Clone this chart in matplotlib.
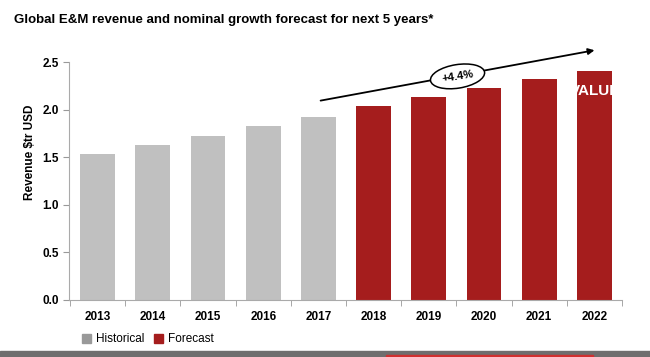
import matplotlib.pyplot as plt
from matplotlib.patches import Rectangle, Patch

# data
years = ['2013', '2014', '2015', '2016', '2017', '2018', '2019', '2020', '2021', '2022']
revenue = [1.53, 1.63, 1.72, 1.83, 1.92, 2.04, 2.13, 2.23, 2.32, 2.41]
n_hist = 5
growth_label = '+4.4%'

grey = '#c0c0c0'
red = '#a51d1d'
plt.rcParams['font.family'] = ['Liberation Sans', 'DejaVu Sans']

fig = plt.figure(figsize=(6.5, 3.57), dpi=100)
ax = fig.add_axes([0.106, 0.16, 0.851, 0.666])

x = list(range(len(years)))
colors = [grey] * n_hist + [red] * (len(years) - n_hist)
bars = ax.bar(x, revenue, width=0.63, color=colors)

ax.set_xlim(-0.52, 9.41)
ax.set_ylim(0, 2.5)
ax.set_yticks([0, 0.5, 1.0, 1.5, 2.0, 2.5])
ax.set_yticklabels(['0.0', '0.5', '1.0', '1.5', '2.0', '2.5'], fontweight='bold', fontsize=8.5)
ax.set_xticks(x)
ax.set_xticklabels(years, fontweight='bold', fontsize=8.5)
ax.tick_params(axis='x', length=0, pad=8)
ax.set_xticks([i + 0.5 for i in range(-1, len(years))], minor=True)
ax.tick_params(axis='x', which='minor', length=4, color='#999999')
ax.tick_params(axis='y', length=4, color='#999999', pad=3)
for s in ['top', 'right']:
    ax.spines[s].set_visible(False)
ax.spines['left'].set_color('#aaaaaa')
ax.spines['bottom'].set_color('#aaaaaa')
ax.set_ylabel('Revenue $tr USD', fontweight='bold', fontsize=8.5)
ax.yaxis.set_label_coords(-0.06, 0.62)

# growth arrow with the CAGR label
ax.annotate('', xy=(9.05, 2.63), xytext=(3.99, 2.09),
            arrowprops=dict(arrowstyle='-|>', color='black', lw=1.3, mutation_scale=9),
            annotation_clip=False)
ax.text(6.52, 2.35, growth_label, ha='center', va='center', fontsize=8, fontweight='bold',
        rotation=9, bbox=dict(boxstyle='ellipse,pad=0.3', fc='white', ec='black', lw=1.1))

# "VALUE" text cut off by the last bar
last = bars[-1]
t = ax.text(x[-1] + 0.02, 2.2, 'VALUE', ha='center', va='center', color='white',
            fontsize=11, fontweight='bold')
t.set_clip_path(last)

fig.text(0.022, 0.945, 'Global E&M revenue and nominal growth forecast for next 5 years*',
         fontsize=9.5, fontweight='bold', va='center')

ax.legend(handles=[Patch(color='#999999', label='Historical'), Patch(color=red, label='Forecast')],
          loc='upper left', bbox_to_anchor=(0.015, -0.12), ncol=2, frameon=False,
          fontsize=8.5, handlelength=0.8, handleheight=0.8, handletextpad=0.4,
          columnspacing=0.8, borderaxespad=0)

# footer band
fig.patches.append(Rectangle((0, 0), 1, 0.016, transform=fig.transFigure, color='#6e6e6e'))
fig.patches.append(Rectangle((0.594, 0), 0.318, 0.006, transform=fig.transFigure, color='#d03030'))

fig.savefig('out.png', dpi=100)
